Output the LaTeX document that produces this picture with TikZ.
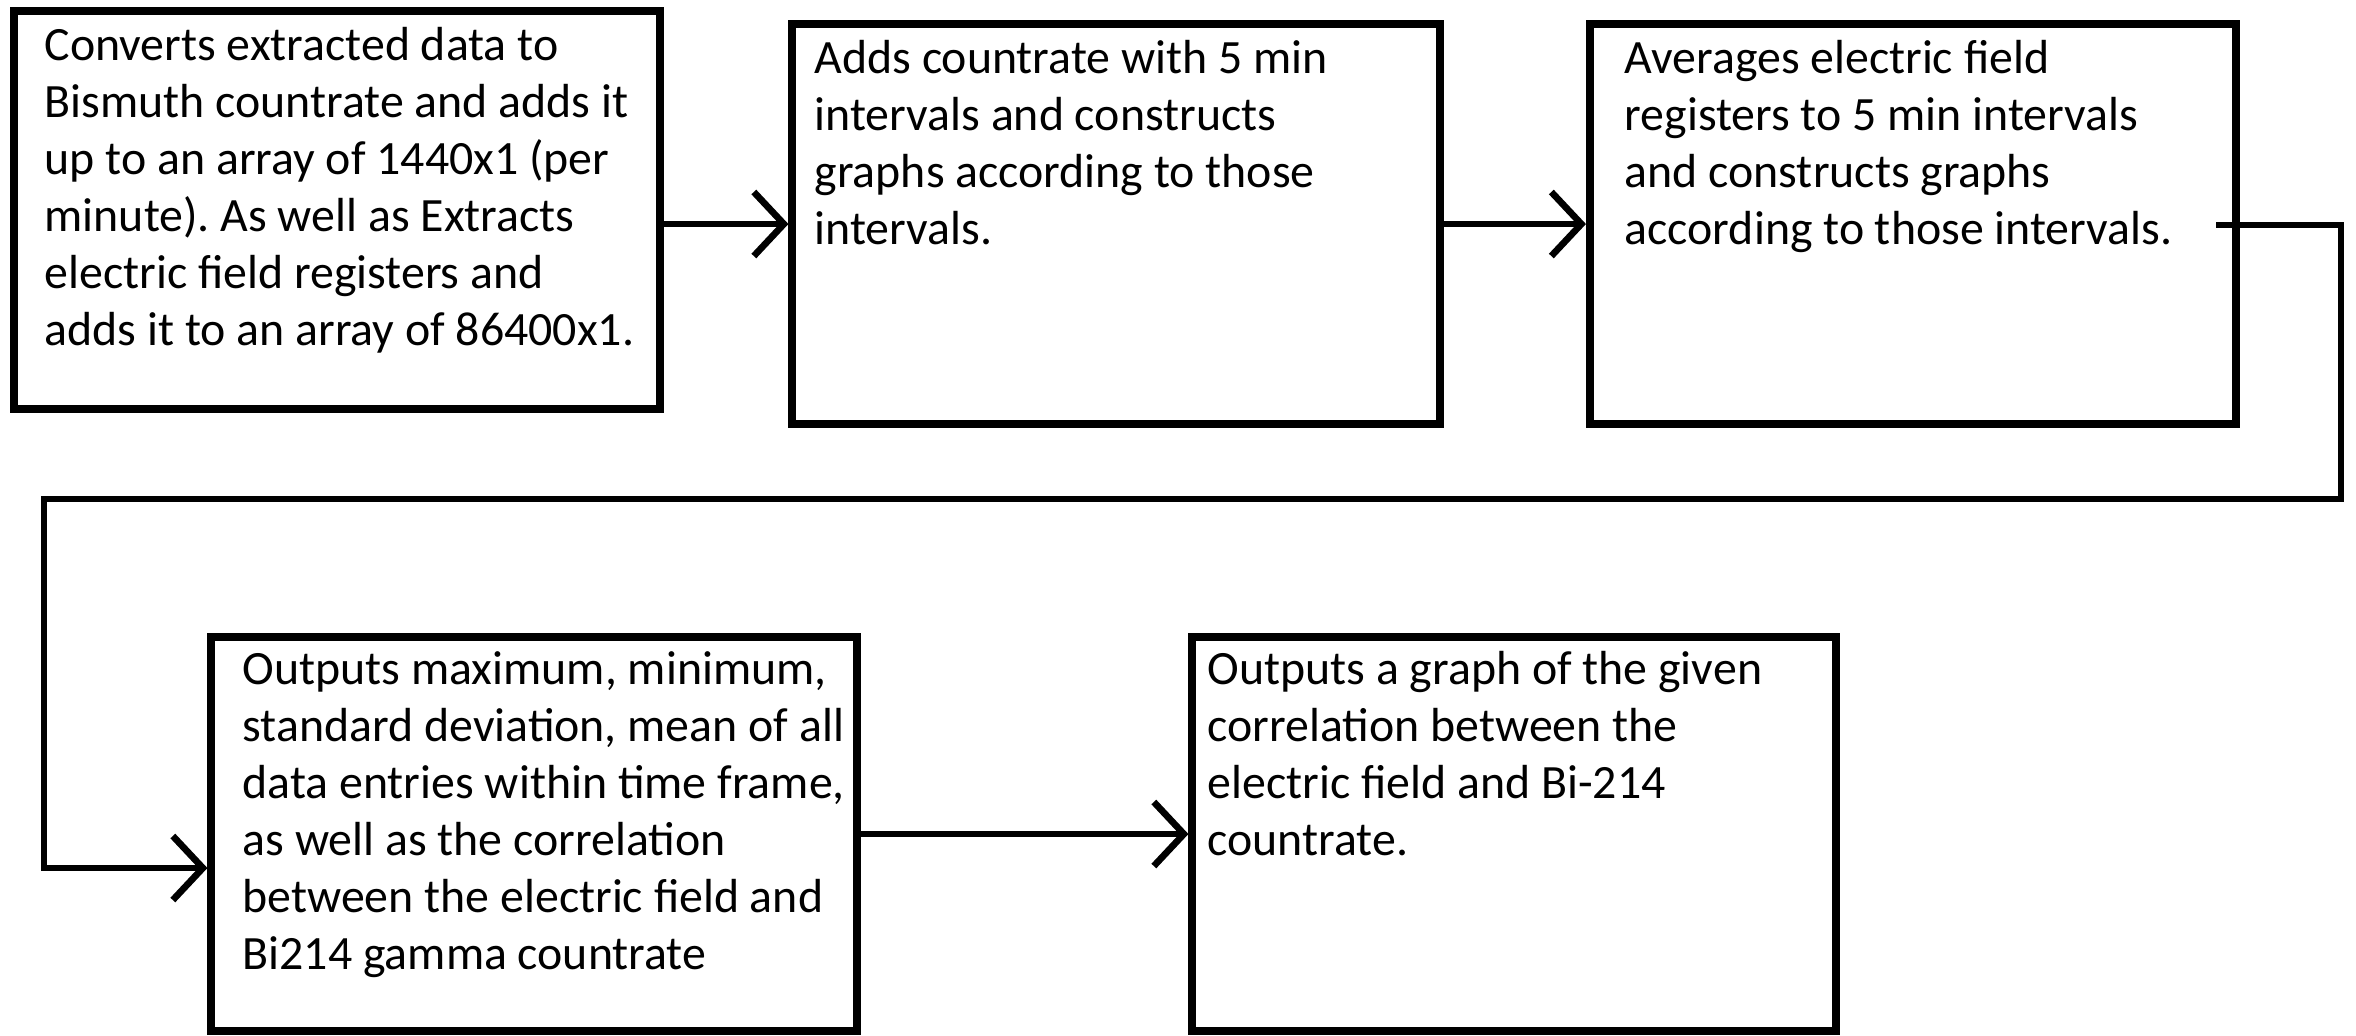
\documentclass[tikz,border=0pt]{standalone}
\usepackage{fontspec}
\setmainfont{Carlito}
\usetikzlibrary{arrows.meta}
\frenchspacing

\begin{document}
\begin{tikzpicture}
    [x=0.01cm, y=-0.01cm,
    box/.style={draw, line width=2.2pt, inner sep=0pt},
    txt/.style={inner sep=0pt, anchor=north west, align=left, font=\fontsize{13.6}{16.2}\selectfont},
    flow/.style={line width=1.9pt, -{Straight Barb[length=3mm, width=6.4mm]}}]
        \useasboundingbox (0,0) rectangle (2356,1035);
        % Top row
        \node[box, minimum width=6.46cm, minimum height=3.98cm] (conv) at (337,210) {};
        \node[box, minimum width=6.47cm, minimum height=4.00cm] (counts) at (1116,224) {};
        \node[box, minimum width=6.46cm, minimum height=4.00cm] (fields) at (1913,224) {};
        \node[txt] (convtxt) at (44,27) {Converts extracted data to\\Bismuth countrate and adds it\\up to an array of 1440x1 (per\\minute). As well as Extracts\\electric field registers and\\adds it to an array of 86400x1.};
        \node[txt] (countstxt) at (814,40) {Adds countrate with 5 min\\intervals and constructs\\graphs according to those\\intervals.};
        \node[txt] (fieldstxt) at (1624,40) {Averages electric field\\registers to 5 min intervals\\and constructs graphs\\according to those intervals.};
        % Bottom row
        \node[box, minimum width=6.45cm, minimum height=3.94cm] (stats) at (534,834) {};
        \node[box, minimum width=6.43cm, minimum height=3.94cm] (plot) at (1514,834) {};
        \node[txt] (statstxt) at (242,651) {Outputs maximum, minimum,\\standard deviation, mean of all\\data entries within time frame,\\as well as the correlation\\between the electric field and\\Bi214 gamma countrate};
        \node[txt] (plottxt) at (1207,651) {Outputs a graph of the given\\correlation between the\\electric field and Bi-214\\countrate.};

        \draw[flow] (conv.east |- counts) -- (counts.west);
        \draw[flow] (counts.east) -- (fields.west);
        \draw[flow] (stats.east) -- (plot.west);
        % back to the second row
        \coordinate (tap) at (2216,225);
        \coordinate (turn) at (2341,499);
        \coordinate (back) at (44,868);
        \draw[flow] (tap) -| (turn) -| (back) -- (stats.west |- back);
    \end{tikzpicture}
\end{document}
